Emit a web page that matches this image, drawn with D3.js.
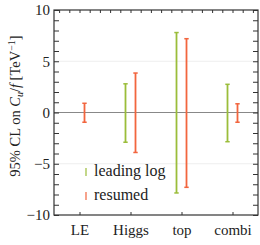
<!DOCTYPE html>
<html>
<head>
<meta charset="utf-8">
<script src="https://cdn.jsdelivr.net/npm/d3@7"></script>
<style>
  body { margin: 0; background: #fff; }
</style>
</head>
<body>
<div id="chart"></div>
<script>
// categories and limits
var categories = ["LE", "Higgs", "top", "combi"];
var leadingLow  = [null, -2.9, -7.85, -2.85];
var leadingHigh = [null, 2.8, 7.8, 2.75];
var resumLow  = [-0.95, -3.9, -7.3, -0.95];
var resumHigh = [0.9, 3.85, 7.2, 0.85];
var yTicks = [-10, -5, 0, 5, 10];

var green = "#9bbd3a";
var orange = "#f2653e";
var serif = "Liberation Serif";

var svgWidth = 260, svgHeight = 245;
var margin = { top: 10, right: 2, bottom: 30, left: 54 };
var chartWidth = svgWidth - margin.left - margin.right;
var chartHeight = svgHeight - margin.top - margin.bottom;

var svg = d3.select("#chart").append("svg")
    .attr("width", svgWidth)
    .attr("height", svgHeight)
    .attr("font-family", serif);

var chartGroup = svg.append("g")
    .attr("transform", `translate(${margin.left}, ${margin.top})`);

var xScale = d3.scaleLinear().domain([0, categories.length]).range([0, chartWidth]);
var yScale = d3.scaleLinear().domain([-10, 10]).range([chartHeight, 0]);

// faint grid at +-5, grey zero line
chartGroup.selectAll(".grid").data([-5, 5]).enter().append("line")
    .attr("x1", 0).attr("x2", chartWidth)
    .attr("y1", d => yScale(d)).attr("y2", d => yScale(d))
    .style("stroke", "#eeeeee").style("stroke-width", 1);
chartGroup.append("line")
    .attr("x1", 0).attr("x2", chartWidth)
    .attr("y1", yScale(0)).attr("y2", yScale(0))
    .style("stroke", "#888").style("stroke-width", 1);

// axes: left with labels, right mirrored, ticks inward
var minorY = d3.range(-10, 11, 1);
chartGroup.append("g")
    .call(d3.axisLeft(yScale).tickValues(minorY).tickSize(-5)
        .tickFormat(d => yTicks.includes(d) ? (d < 0 ? "\u2212" + (-d) : d) : ""))
    .call(g => g.select(".domain").remove())
    .call(g => g.selectAll("text").attr("x", -4));
chartGroup.append("g")
    .attr("transform", `translate(${chartWidth}, 0)`)
    .call(d3.axisRight(yScale).tickValues(minorY).tickSize(-5).tickFormat(""))
    .call(g => g.select(".domain").remove());

var catPos = categories.map((c, i) => i + 0.5);
chartGroup.append("g")
    .attr("transform", `translate(0, ${chartHeight})`)
    .call(d3.axisBottom(xScale).tickValues(catPos).tickSize(-3)
        .tickFormat((d, i) => categories[i]))
    .call(g => g.select(".domain").remove())
    .call(g => g.selectAll("text").attr("y", 9));
chartGroup.append("g")
    .call(d3.axisTop(xScale).tickValues(d3.range(0.1, 4, 0.2)).tickSize(-3).tickFormat(""))
    .call(g => g.select(".domain").remove());

chartGroup.selectAll(".tick line").style("stroke", "#333");
chartGroup.selectAll(".tick text")
    .attr("font-family", serif)
    .style("font-size", "15px").style("fill", "#222");

// frame
chartGroup.append("rect")
    .attr("width", chartWidth).attr("height", chartHeight)
    .style("fill", "none").style("stroke", "#333").style("stroke-width", 1.2);

// error bars
function drawBars(lows, highs, offset, color) {
    var data = categories.map((c, i) => ({ x: catPos[i], lo: lows[i], hi: highs[i] }))
        .filter(d => d.lo !== null);
    var g = chartGroup.append("g");
    g.selectAll(".bar").data(data).enter().append("line")
        .attr("x1", d => xScale(d.x) + offset).attr("x2", d => xScale(d.x) + offset)
        .attr("y1", d => yScale(d.lo)).attr("y2", d => yScale(d.hi))
        .style("stroke", color).style("stroke-width", 1.8);
    ["lo", "hi"].forEach(function (k) {
        g.selectAll(".cap" + k).data(data).enter().append("line")
            .attr("x1", d => xScale(d.x) + offset - 2.2).attr("x2", d => xScale(d.x) + offset + 2.2)
            .attr("y1", d => yScale(d[k])).attr("y2", d => yScale(d[k]))
            .style("stroke", color).style("stroke-width", 1.5);
    });
}
drawBars(leadingLow, leadingHigh, -5, green);
drawBars(resumLow, resumHigh, 5, orange);

// legend
var legend = [["leading log", green], ["resumed", orange]];
legend.forEach(function (l, i) {
    var y = 162 + i * 24;
    chartGroup.append("line")
        .attr("x1", 32).attr("x2", 32).attr("y1", y - 4).attr("y2", y + 4)
        .style("stroke", l[1]).style("stroke-width", 1.2);
    chartGroup.append("text")
        .attr("x", 40).attr("y", y + 4)
        .attr("font-family", serif)
        .style("font-size", "16px").style("fill", "#222")
        .text(l[0]);
});

// y label
var ylab = svg.append("text")
    .attr("transform", "translate(20, 106) rotate(-90)")
    .attr("text-anchor", "middle")
    .attr("font-family", serif)
    .style("font-size", "14.5px").style("fill", "#222");
ylab.append("tspan").text("95% CL on ");
ylab.append("tspan").style("font-style", "italic").text("C");
ylab.append("tspan").attr("dy", 3).style("font-size", "10px").style("font-style", "italic").text("u");
ylab.append("tspan").attr("dy", -3).text("/");
ylab.append("tspan").style("font-style", "italic").text("f");
ylab.append("tspan").text(" [TeV");
ylab.append("tspan").attr("dy", -5).style("font-size", "10px").text("\u22121");
ylab.append("tspan").attr("dy", 5).text("]");
</script>
</body>
</html>
